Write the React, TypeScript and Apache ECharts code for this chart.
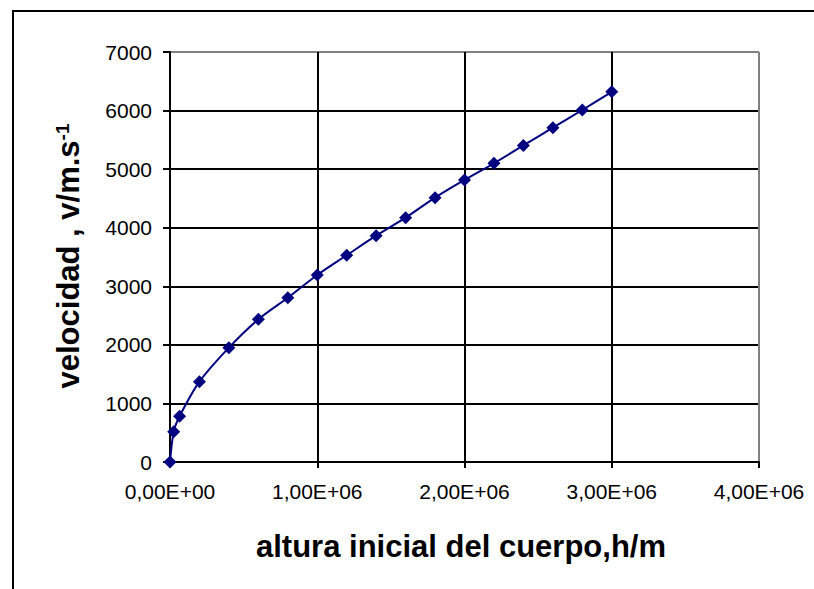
import React, { useEffect, useRef } from "react";
import * as echarts from "echarts";

const heights = [0, 25000, 65000, 200000, 400000, 600000, 800000, 1000000, 1200000, 1400000, 1600000, 1800000, 2000000, 2200000, 2400000, 2600000, 2800000, 3000000];
const speeds = [0, 515, 780, 1371, 1952, 2436, 2805, 3193, 3530, 3864, 4171, 4513, 4815, 5100, 5405, 5708, 6010, 6320];
const xTickLabels = ["0,00E+00", "1,00E+06", "2,00E+06", "3,00E+06", "4,00E+06"];
const xTitle = "altura inicial del cuerpo,h/m";
const yTitleMain = "velocidad , v/m.s";
const yTitleSup = "-1";

const FONT = "'Liberation Sans', Arial, Helvetica, sans-serif";

export default function App() {
  const ref = useRef<HTMLDivElement>(null);
  useEffect(() => {
    document.body.style.margin = "0";
    const chart = echarts.init(ref.current!, undefined, { renderer: "svg" });
    const points = heights.map((h, i) => [h, speeds[i]]);
    chart.setOption({
      animation: false,
      backgroundColor: "#fff",
      grid: { left: 170, right: 55, top: 52, bottom: 127, containLabel: false },
      xAxis: {
        type: "value",
        min: 0,
        max: 4000000,
        interval: 1000000,
        axisLine: { show: true, onZero: false, lineStyle: { color: "#000", width: 2 } },
        axisTick: { show: true, inside: false, length: 6, lineStyle: { color: "#000", width: 2 } },
        axisLabel: {
          margin: 19,
          fontSize: 21,
          fontFamily: FONT,
          color: "#000",
          formatter: (v: number) => xTickLabels[Math.round(v / 1000000)] ?? "",
        },
        splitLine: {
          show: true,
          lineStyle: { color: ["#000", "#000", "#000", "#000", "#808080"], width: 2 },
        },
      },
      yAxis: {
        type: "value",
        min: 0,
        max: 7000,
        interval: 1000,
        axisLine: { show: true, onZero: false, lineStyle: { color: "#000", width: 2 } },
        axisTick: { show: true, inside: false, length: 7, lineStyle: { color: "#000", width: 2 } },
        axisLabel: {
          margin: 18,
          fontSize: 21,
          fontFamily: FONT,
          color: "#000",
          formatter: (v: number) => String(v),
        },
        splitLine: {
          show: true,
          lineStyle: { color: ["#000", "#000", "#000", "#000", "#000", "#000", "#000", "#808080"], width: 2 },
        },
      },
      series: [
        {
          type: "line",
          data: points,
          smooth: 0.3,
          symbol: "diamond",
          symbolSize: 13,
          lineStyle: { color: "#000080", width: 2 },
          itemStyle: { color: "#000080" },
          z: 5,
        },
      ],
      graphic: [
        {
          type: "rect",
          shape: { x: 13, y: 11, width: 1000, height: 1000 },
          style: { fill: "none", stroke: "#000", lineWidth: 2 },
          silent: true,
        },
        {
          type: "text",
          x: 461,
          y: 546,
          style: {
            text: xTitle,
            fontSize: 31,
            fontWeight: "bold",
            fontFamily: FONT,
            fill: "#000",
            align: "center",
            verticalAlign: "middle",
          },
        },
        {
          type: "text",
          x: 68,
          y: 256,
          rotation: Math.PI / 2,
          style: {
            text: `{m|${yTitleMain}}{s|${yTitleSup}}`,
            align: "center",
            verticalAlign: "middle",
            fill: "#000",
            rich: {
              m: { fontSize: 31, fontWeight: "bold", fontFamily: FONT, fill: "#000", color: "#000" },
              s: { fontSize: 19, fontWeight: "bold", fontFamily: FONT, fill: "#000", color: "#000", verticalAlign: "top" },
            },
          },
        },
      ],
    });
    return () => chart.dispose();
  }, []);
  return <div ref={ref} style={{ width: 814, height: 589 }} />;
}
